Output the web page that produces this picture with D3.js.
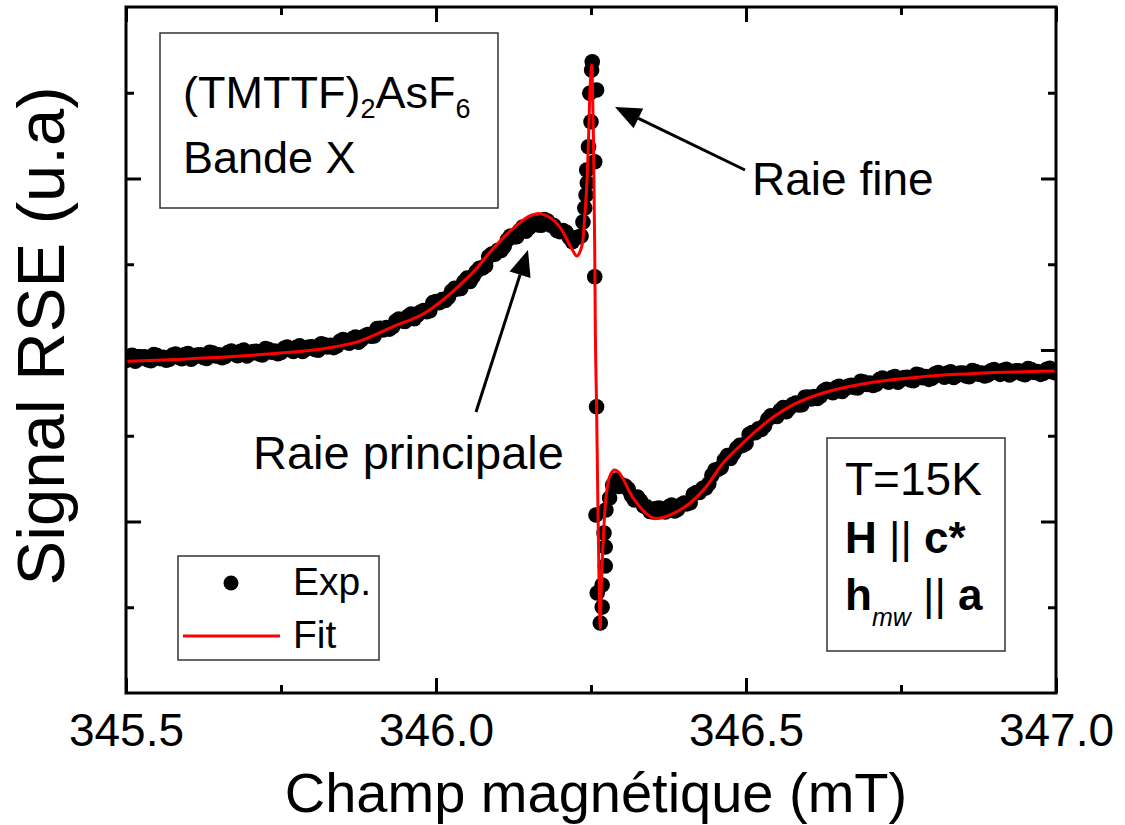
<!DOCTYPE html>
<html><head><meta charset="utf-8">
<script src="https://cdn.jsdelivr.net/npm/d3@7"></script>
<style>
html,body{margin:0;padding:0;background:#fff;}
svg text{font-family:"Liberation Sans",Arial,sans-serif;fill:#000;}
</style></head>
<body><svg id="c" width="1125" height="825"></svg>
<script>
// ---- data ----
const xTicksMajor = [345.5, 346.0, 346.5, 347.0];
const xTicksMinor = [345.75, 346.25, 346.75];
const yTicksMajor = [-1, 0, 1];
const yTicksMinor = [-1.5, -0.5, 0.5, 1.5];

const fitField = [345.500,345.579,345.660,345.740,345.821,345.877,345.929,345.982,346.035,346.063,346.090,346.116,346.131,346.144,346.155,346.165,346.176,346.192,346.203,346.213,346.221,346.227,346.232,346.237,346.240,346.244,346.246,346.248,346.250,346.251,346.252,346.254,346.256,346.257,346.259,346.261,346.263,346.265,346.266,346.269,346.273,346.277,346.282,346.288,346.294,346.302,346.313,346.329,346.342,346.356,346.369,346.385,346.410,346.434,346.463,346.490,346.518,346.544,346.571,346.624,346.679,346.732,346.785,346.840,346.894,346.947,347.000];
const fitSignal = [-0.067,-0.055,-0.041,-0.020,0.009,0.052,0.134,0.216,0.367,0.466,0.583,0.682,0.729,0.767,0.787,0.796,0.787,0.749,0.700,0.630,0.577,0.548,0.571,0.641,0.787,1.020,1.224,1.487,1.621,1.662,1.603,1.224,0.583,0.117,-0.332,-0.875,-1.341,-1.621,-1.458,-1.166,-0.904,-0.781,-0.723,-0.700,-0.711,-0.752,-0.834,-0.915,-0.962,-0.983,-0.974,-0.950,-0.892,-0.805,-0.659,-0.560,-0.466,-0.391,-0.329,-0.251,-0.204,-0.175,-0.156,-0.142,-0.132,-0.127,-0.122];

// experimental points, set A (whole-hundredth fields + the sparse narrow-line points)
const expField = [345.50,345.51,345.52,345.53,345.54,345.55,345.56,345.57,345.58,345.59,345.60,345.61,345.62,345.63,345.64,345.65,345.66,345.67,345.68,345.69,345.70,345.71,345.72,345.73,345.74,345.75,345.76,345.77,345.78,345.79,345.80,345.81,345.82,345.83,345.84,345.85,345.86,345.87,345.88,345.89,345.90,345.91,345.92,345.93,345.94,345.95,345.96,345.97,345.98,345.99,346.00,346.01,346.02,346.03,346.04,346.05,346.06,346.07,346.08,346.09,346.10,346.11,346.12,346.13,346.14,346.15,346.16,346.17,346.18,346.19,346.20,346.21,346.22,346.23,
346.234,346.237,346.240,346.242,346.244,
346.243,346.256,346.246,346.250,346.248,346.259,346.251,346.252,346.256,346.259,346.258,346.271,346.273,346.273,346.268,346.260,346.268,346.265,346.274,
346.28,346.29,346.30,346.31,346.32,346.33,346.34,346.35,346.36,346.37,346.38,346.39,346.40,346.41,346.42,346.43,346.44,346.45,346.46,346.47,346.48,346.49,346.50,346.51,346.52,346.53,346.54,346.55,346.56,346.57,346.58,346.59,346.60,346.61,346.62,346.63,346.64,346.65,346.66,346.67,346.68,346.69,346.70,346.71,346.72,346.73,346.74,346.75,346.76,346.77,346.78,346.79,346.80,346.81,346.82,346.83,346.84,346.85,346.86,346.87,346.88,346.89,346.90,346.91,346.92,346.93,346.94,346.95,346.96,346.97,346.98,346.99,347.00];
const expSignal = [-0.061,-0.031,-0.053,-0.040,-0.062,-0.033,-0.043,-0.054,-0.023,-0.051,-0.020,-0.041,-0.028,-0.049,-0.018,-0.028,-0.038,-0.006,-0.033,-0.001,-0.022,-0.008,-0.029,0.003,-0.006,-0.015,0.017,-0.009,0.024,0.004,0.019,-0.001,0.031,0.027,0.023,0.061,0.039,0.076,0.062,0.090,0.082,0.127,0.131,0.136,0.180,0.166,0.210,0.203,0.230,0.229,0.282,0.294,0.307,0.360,0.359,0.419,0.428,0.476,0.491,0.559,0.581,0.603,0.664,0.661,0.717,0.713,0.742,0.727,0.752,0.726,0.690,0.687,0.632,0.659,
0.665,0.746,0.828,0.904,0.974,
1.050,1.098,1.185,1.331,1.497,1.516,1.633,1.681,0.427,-0.331,-0.962,-1.067,-1.149,-1.259,-1.370,-1.417,-1.499,-1.592,-0.933,
-0.863,-0.758,-0.787,-0.810,-0.875,-0.880,-0.915,-0.945,-0.921,-0.945,-0.904,-0.928,-0.892,-0.891,-0.831,-0.807,-0.780,-0.700,-0.685,-0.616,-0.603,-0.555,-0.545,-0.481,-0.460,-0.442,-0.384,-0.388,-0.336,-0.338,-0.310,-0.319,-0.275,-0.272,-0.269,-0.229,-0.249,-0.211,-0.226,-0.206,-0.221,-0.187,-0.192,-0.199,-0.164,-0.188,-0.155,-0.174,-0.159,-0.179,-0.146,-0.155,-0.164,-0.132,-0.159,-0.127,-0.148,-0.134,-0.156,-0.125,-0.135,-0.145,-0.114,-0.142,-0.112,-0.134,-0.121,-0.144,-0.114,-0.125,-0.136,-0.106,-0.134];

// experimental points, set B (half-hundredth fields)
const expFieldB = [345.505,345.515,345.525,345.535,345.545,345.555,345.565,345.575,345.585,345.595,345.605,345.615,345.625,345.635,345.645,345.655,345.665,345.675,345.685,345.695,345.705,345.715,345.725,345.735,345.745,345.755,345.765,345.775,345.785,345.795,345.805,345.815,345.825,345.835,345.845,345.855,345.865,345.875,345.885,345.895,345.905,345.915,345.925,345.935,345.945,345.955,345.965,345.975,345.985,345.995,346.005,346.015,346.025,346.035,346.045,346.055,346.065,346.075,346.085,346.095,346.105,346.115,346.125,346.135,346.145,346.155,346.165,346.175,346.185,346.195,346.205,346.215,346.225,
346.285,346.295,346.305,346.315,346.325,346.335,346.345,346.355,346.365,346.375,346.385,346.395,346.405,346.415,346.425,346.435,346.445,346.455,346.465,346.475,346.485,346.495,346.505,346.515,346.525,346.535,346.545,346.555,346.565,346.575,346.585,346.595,346.605,346.615,346.625,346.635,346.645,346.655,346.665,346.675,346.685,346.695,346.705,346.715,346.725,346.735,346.745,346.755,346.765,346.775,346.785,346.795,346.805,346.815,346.825,346.835,346.845,346.855,346.865,346.875,346.885,346.895,346.905,346.915,346.925,346.935,346.945,346.955,346.965,346.975,346.985,346.995];
const expSignalB = [-0.037,-0.065,-0.041,-0.057,-0.027,-0.050,-0.060,-0.030,-0.040,-0.027,-0.054,-0.029,-0.044,-0.013,-0.035,-0.045,-0.013,-0.022,-0.008,-0.035,-0.009,-0.024,0.008,-0.013,-0.022,0.010,0.001,0.016,-0.009,0.017,0.003,0.036,0.018,0.014,0.051,0.047,0.066,0.046,0.082,0.080,0.125,0.117,0.122,0.167,0.170,0.197,0.183,0.222,0.223,0.276,0.276,0.289,0.342,0.356,0.398,0.400,0.458,0.478,0.545,0.558,0.580,0.642,0.659,0.697,0.692,0.733,0.729,0.760,0.727,0.697,0.697,0.656,0.654,
-0.787,-0.796,-0.793,-0.848,-0.857,-0.910,-0.942,-0.924,-0.936,-0.915,-0.939,-0.904,-0.897,-0.841,-0.831,-0.805,-0.731,-0.695,-0.642,-0.633,-0.573,-0.556,-0.492,-0.482,-0.463,-0.404,-0.388,-0.353,-0.360,-0.318,-0.320,-0.276,-0.285,-0.282,-0.240,-0.242,-0.221,-0.242,-0.210,-0.219,-0.183,-0.201,-0.207,-0.173,-0.179,-0.162,-0.188,-0.161,-0.175,-0.142,-0.162,-0.171,-0.139,-0.148,-0.134,-0.160,-0.135,-0.151,-0.120,-0.141,-0.151,-0.121,-0.131,-0.118,-0.146,-0.122,-0.138,-0.108,-0.131,-0.142,-0.112,-0.128];

// ---- layout ----
const svg = d3.select("#c");
const L = 126, R = 1056, T = 7, B = 693;
const x = d3.scaleLinear().domain([345.5, 347.0]).range([L, R]);
const y = d3.scaleLinear().domain([-2, 2]).range([B, T]);
const font = '"Liberation Sans",Arial,sans-serif';

svg.append("defs").append("clipPath").attr("id","plotclip")
  .append("rect").attr("x",L).attr("y",T).attr("width",R-L).attr("height",B-T);
const plot = svg.append("g").attr("clip-path","url(#plotclip)");

const expData = expField.map((f,i)=>[f, expSignal[i]]).concat(expFieldB.map((f,i)=>[f, expSignalB[i]]));
plot.append("g").selectAll("circle").data(expData)
  .join("circle").attr("cx", d=>x(d[0])).attr("cy", d=>y(d[1])).attr("r", 7.8).attr("fill", "#000");

const line = d3.line().x(d=>x(d[0])).y(d=>y(d[1])).curve(d3.curveMonotoneX);
plot.append("path").datum(fitField.map((f,i)=>[f, fitSignal[i]]))
  .attr("d", line).attr("fill", "none").attr("stroke", "#ff0000").attr("stroke-width", 3);

// axes
function styleAxis(g){ g.select(".domain").remove(); g.selectAll(".tick line").attr("stroke","#000").attr("stroke-width",3); }
const bottomMaj = d3.axisBottom(x).tickValues(xTicksMajor).tickSize(-15).tickPadding(20).tickFormat(d3.format(".1f"));
svg.append("g").attr("transform",`translate(0,${B})`).call(bottomMaj).call(styleAxis)
  .selectAll("text").attr("font-size",46).attr("font-family",font);
svg.append("g").attr("transform",`translate(0,${B})`).call(d3.axisBottom(x).tickValues(xTicksMinor).tickSize(-8).tickFormat("")).call(styleAxis);
svg.append("g").attr("transform",`translate(0,${T})`).call(d3.axisTop(x).tickValues(xTicksMajor).tickSize(-15).tickFormat("")).call(styleAxis);
svg.append("g").attr("transform",`translate(0,${T})`).call(d3.axisTop(x).tickValues(xTicksMinor).tickSize(-8).tickFormat("")).call(styleAxis);
svg.append("g").attr("transform",`translate(${L},0)`).call(d3.axisLeft(y).tickValues(yTicksMajor).tickSize(-15).tickFormat("")).call(styleAxis);
svg.append("g").attr("transform",`translate(${L},0)`).call(d3.axisLeft(y).tickValues(yTicksMinor).tickSize(-8).tickFormat("")).call(styleAxis);
svg.append("g").attr("transform",`translate(${R},0)`).call(d3.axisRight(y).tickValues(yTicksMajor).tickSize(-15).tickFormat("")).call(styleAxis);
svg.append("g").attr("transform",`translate(${R},0)`).call(d3.axisRight(y).tickValues(yTicksMinor).tickSize(-8).tickFormat("")).call(styleAxis);

svg.append("rect").attr("x",L).attr("y",T).attr("width",R-L).attr("height",B-T)
  .attr("fill","none").attr("stroke","#000").attr("stroke-width",3);

// axis titles
svg.append("text").attr("x",(L+R)/2 + 5).attr("y",812).attr("text-anchor","middle")
  .attr("font-size",56).text("Champ magnétique (mT)");
svg.append("text").attr("transform","translate(64,336) rotate(-90)").attr("text-anchor","middle")
  .attr("font-size",67).text("Signal RSE (u.a)");

// box 1
svg.append("rect").attr("x",160).attr("y",33).attr("width",338).attr("height",175)
  .attr("fill","none").attr("stroke","#333").attr("stroke-width",1.5);
const t1 = svg.append("text").attr("x",183).attr("y",108).attr("font-size",45);
t1.append("tspan").text("(TMTTF)");
t1.append("tspan").attr("font-size",27).attr("dy",10).text("2");
t1.append("tspan").attr("dy",-10).text("AsF");
t1.append("tspan").attr("font-size",27).attr("dy",10).text("6");
svg.append("text").attr("x",183).attr("y",173).attr("font-size",45).text("Bande X");

// box 2
svg.append("rect").attr("x",827).attr("y",438).attr("width",178).attr("height",213)
  .attr("fill","none").attr("stroke","#333").attr("stroke-width",1.5);
svg.append("text").attr("x",845).attr("y",495).attr("font-size",46).text("T=15K");
const t2 = svg.append("text").attr("x",845).attr("y",553).attr("font-size",44);
t2.append("tspan").attr("font-weight","bold").text("H");
t2.append("tspan").text(" || ");
t2.append("tspan").attr("font-weight","bold").text("c*");
const t3 = svg.append("text").attr("x",845).attr("y",610).attr("font-size",44);
t3.append("tspan").attr("font-weight","bold").text("h");
t3.append("tspan").attr("font-size",25).attr("font-style","italic").attr("dy",16).text("mw");
t3.append("tspan").attr("dy",-16).text(" || ");
t3.append("tspan").attr("font-weight","bold").text("a");

// legend
svg.append("rect").attr("x",178).attr("y",556).attr("width",201).attr("height",104)
  .attr("fill","none").attr("stroke","#333").attr("stroke-width",1.5);
svg.append("circle").attr("cx",231).attr("cy",583).attr("r",7.5).attr("fill","#000");
svg.append("text").attr("x",293).attr("y",595).attr("font-size",39).text("Exp.");
svg.append("line").attr("x1",183).attr("x2",280).attr("y1",636).attr("y2",636).attr("stroke","#ff0000").attr("stroke-width",3);
svg.append("text").attr("x",293).attr("y",648).attr("font-size",39).text("Fit");

// annotations
function arrow(x1,y1,x2,y2){
  const a = Math.atan2(y2-y1, x2-x1), len=26, w=11;
  const bx = x2 - len*Math.cos(a), by = y2 - len*Math.sin(a);
  svg.append("line").attr("x1",x1).attr("y1",y1).attr("x2",bx).attr("y2",by).attr("stroke","#000").attr("stroke-width",3);
  const px = -Math.sin(a)*w, py = Math.cos(a)*w;
  svg.append("path").attr("d",`M${x2},${y2}L${bx+px},${by+py}L${bx-px},${by-py}Z`).attr("fill","#000");
}
arrow(745,170,615,107);
arrow(476,412,528,250);
svg.append("text").attr("x",752).attr("y",195).attr("font-size",46).text("Raie fine");
svg.append("text").attr("x",253).attr("y",469).attr("font-size",47).text("Raie principale");
</script></body></html>
